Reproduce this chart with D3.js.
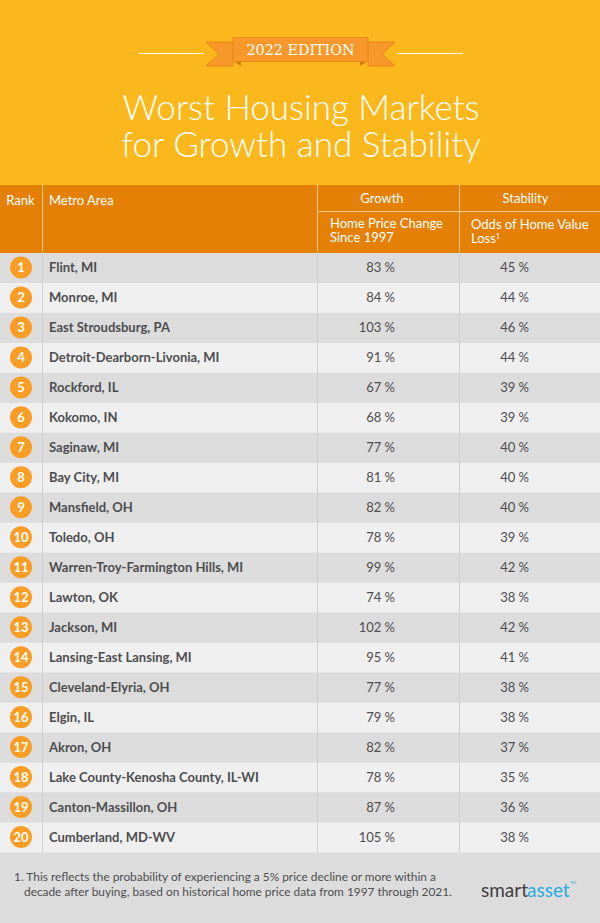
<!DOCTYPE html>
<html>
<head>
<meta charset="utf-8">
<script src="https://cdn.jsdelivr.net/npm/d3@7"></script>
<style>
  html, body { margin: 0; padding: 0; background: #dcdcdc; }
  svg { display: block; }
  text { font-family: Lato, "Open Sans", sans-serif; }
</style>
</head>
<body>
<script>
// table data
var metros = ['Flint, MI','Monroe, MI','East Stroudsburg, PA','Detroit-Dearborn-Livonia, MI','Rockford, IL',
  'Kokomo, IN','Saginaw, MI','Bay City, MI','Mansfield, OH','Toledo, OH',
  'Warren-Troy-Farmington Hills, MI','Lawton, OK','Jackson, MI','Lansing-East Lansing, MI','Cleveland-Elyria, OH',
  'Elgin, IL','Akron, OH','Lake County-Kenosha County, IL-WI','Canton-Massillon, OH','Cumberland, MD-WV'];
var growth = [83,84,103,91,67,68,77,81,82,78,99,74,102,95,77,79,82,78,87,105];
var stability = [45,44,46,44,39,39,40,40,40,39,42,38,42,41,38,38,37,35,36,38];
var titleLines = ['Worst Housing Markets','for Growth and Stability'];
var footnoteLines = ['1. This reflects the probability of experiencing a 5% price decline or more within a',
  'decade after buying, based on historical home price data from 1997 through 2021.'];

var W = 600, H = 923;
var svg = d3.select('body').append('svg').attr('width', W).attr('height', H);

// banner
svg.append('rect').attr('width', W).attr('height', 185).attr('fill', '#fbb81c');

// lines either side of the ribbon
svg.append('line').attr('x1',139).attr('x2',204).attr('y1',53.5).attr('y2',53.5).attr('stroke','#fff').attr('stroke-width',1);
svg.append('line').attr('x1',397).attr('x2',463).attr('y1',53.5).attr('y2',53.5).attr('stroke','#fff').attr('stroke-width',1);

// ribbon tails
svg.append('path').attr('d','M206 42 L233 42 L233 66 L206 66 L219 54 Z')
  .attr('fill','#f8982a').attr('stroke','#e8891a').attr('stroke-width',1);
svg.append('path').attr('d','M395 42 L368 42 L368 66 L395 66 L382 54 Z')
  .attr('fill','#f8982a').attr('stroke','#e8891a').attr('stroke-width',1);
svg.append('path').attr('d','M233 61 L241 66 L241 61 Z').attr('fill','#d97c10');
svg.append('path').attr('d','M368 61 L360 66 L360 61 Z').attr('fill','#d97c10');
svg.append('rect').attr('x',233).attr('y',37.5).attr('width',135).attr('height',24)
  .attr('fill','#f8982a').attr('stroke','#e8891a').attr('stroke-width',1);
svg.append('text').attr('x',300.5).attr('y',55).attr('text-anchor','middle')
  .attr('fill','#fff').attr('font-size',14)
  .style('font-family','"DejaVu Serif", serif').attr('textLength',108).attr('lengthAdjust','spacingAndGlyphs')
  .text('2022 EDITION');

svg.selectAll('text.title').data(titleLines).enter().append('text')
  .attr('class','title')
  .attr('x',301).attr('y',function(d,i){ return 120 + i*37; })
  .attr('text-anchor','middle').attr('fill','#fff').attr('font-size',35).attr('font-weight',300)
  .text(function(d){ return d; });

// table scales
var y = d3.scaleBand().domain(metros).range([253, 852.5]);
var xCol = { rank: 21, metro: 49, growth: 395, stability: 529 };
var divs = [42.5, 317.5, 459.5];

// header
svg.append('rect').attr('y',185).attr('width',W).attr('height',68).attr('fill','#e38005');
svg.selectAll('line.head').data(divs).enter().append('line')
  .attr('class','head')
  .attr('x1',function(d){ return d; }).attr('x2',function(d){ return d; })
  .attr('y1',185).attr('y2',253).attr('stroke','#f5c98a').attr('stroke-width',1);
svg.append('line').attr('x1',317).attr('x2',W).attr('y1',211.5).attr('y2',211.5)
  .attr('stroke','#f5c98a').attr('stroke-width',1);

function head(x, yy, txt, anchor) {
  return svg.append('text').attr('x',x).attr('y',yy).attr('text-anchor',anchor||'start')
    .attr('fill','#fff').attr('font-size',13).text(txt);
}
head(20.5,205,'Rank','middle');
head(49,205,'Metro Area');
head(382,203,'Growth','middle');
head(525.5,203,'Stability','middle');
// two line headers, kept as one text each
var sub1 = head(330,228,'Home Price Change');
sub1.append('tspan').attr('x',330).attr('dy',14).text('Since 1997');
var sub2 = head(471,229,'Odds of Home Value');
sub2.append('tspan').attr('x',471).attr('dy',14).text('Loss');
sub2.append('tspan').attr('font-size',7.5).attr('dy',-4).text('1');

// rows
var rows = svg.selectAll('g.row').data(metros).enter().append('g').attr('class','row');
rows.append('rect').attr('x',0).attr('width',W)
  .attr('y',function(d){ return y(d); }).attr('height',y.bandwidth())
  .attr('fill',function(d,i){ return i % 2 ? '#efefef' : '#dcdcdc'; });

// column dividers over the rows
svg.selectAll('line.div').data(divs).enter().append('line')
  .attr('class','div')
  .attr('x1',function(d){ return d; }).attr('x2',function(d){ return d; })
  .attr('y1',253).attr('y2',852).attr('stroke','#cfcfcf').attr('stroke-width',1);

rows.append('circle').attr('cx',xCol.rank)
  .attr('cy',function(d){ return y(d) + y.bandwidth()/2 - 0.5; })
  .attr('r',11).attr('fill','#f99d25');
rows.append('text').attr('x',xCol.rank)
  .attr('y',function(d){ return y(d) + y.bandwidth()/2 + 4.5; })
  .attr('text-anchor','middle').attr('fill','#fff').attr('font-size',13).attr('font-weight',700)
  .text(function(d,i){ return i + 1; });
rows.append('text').attr('x',xCol.metro)
  .attr('y',function(d){ return y(d) + y.bandwidth()/2 + 4.5; })
  .attr('fill','#4d4d4f').attr('font-size',13).attr('font-weight',700)
  .text(function(d){ return d; });
rows.append('text').attr('x',xCol.growth)
  .attr('y',function(d){ return y(d) + y.bandwidth()/2 + 4.5; })
  .attr('text-anchor','end').attr('fill','#4d4d4f').attr('font-size',13)
  .text(function(d,i){ return growth[i] + ' %'; });
rows.append('text').attr('x',xCol.stability)
  .attr('y',function(d){ return y(d) + y.bandwidth()/2 + 4.5; })
  .attr('text-anchor','end').attr('fill','#4d4d4f').attr('font-size',13)
  .text(function(d,i){ return stability[i] + ' %'; });

// footnote
var note = svg.append('text').attr('fill','#4d4d4f').attr('font-size',11.87);
note.selectAll('tspan').data(footnoteLines).enter().append('tspan')
  .attr('x',function(d,i){ return i ? 24 : 14; })
  .attr('y',function(d,i){ return 881 + i*15; })
  .text(function(d){ return d; });

// logo wordmark
svg.append('text').attr('x',481).attr('y',897).attr('font-size',19).attr('fill','#3f3f41').text('smart');
svg.append('text').attr('x',527).attr('y',897).attr('font-size',19).attr('fill','#29abe2').text('asset');
svg.append('text').attr('x',570).attr('y',884).attr('font-size',4).attr('fill','#29abe2').text('TM');
</script>
</body>
</html>
